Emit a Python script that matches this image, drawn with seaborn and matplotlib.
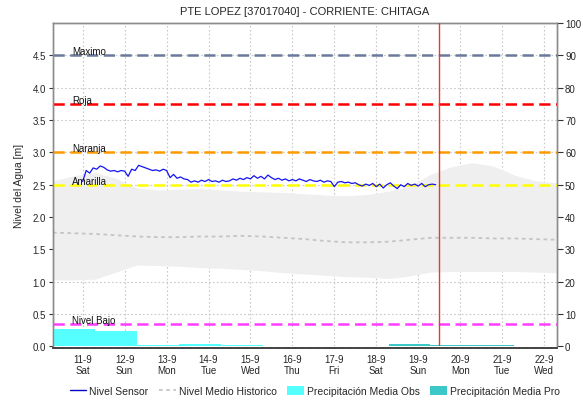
import matplotlib
matplotlib.use("Agg")
import matplotlib.pyplot as plt
from matplotlib.lines import Line2D
from matplotlib.patches import Patch
import numpy as np
import pandas as pd
import seaborn as sns

sns.set_theme(style="white")
plt.rcParams["font.family"] = ["Liberation Sans", "DejaVu Sans"]

# ---------------- data ----------------
title = "PTE LOPEZ [37017040] - CORRIENTE: CHITAGA"

# sensor level [m], every 2 hours from 11-9 00:00
sensor_start = "2021-09-11 00:00"
sensor_level = [
    2.55, 2.72, 2.68, 2.76, 2.74, 2.79, 2.77, 2.73, 2.71, 2.72, 2.70, 2.72,
    2.71, 2.63, 2.74, 2.72, 2.80, 2.78, 2.76, 2.74, 2.72, 2.73, 2.71, 2.74,
    2.72, 2.61, 2.66, 2.60, 2.62, 2.59, 2.58, 2.54, 2.56, 2.54, 2.57, 2.55,
    2.58, 2.55, 2.56, 2.54, 2.57, 2.55, 2.56, 2.59, 2.57, 2.60, 2.58, 2.61,
    2.59, 2.64, 2.60, 2.63, 2.59, 2.65, 2.61, 2.58, 2.60, 2.57, 2.59, 2.56,
    2.58, 2.56, 2.59, 2.57, 2.55, 2.58, 2.56, 2.55, 2.57, 2.54, 2.56, 2.55,
    2.47, 2.54, 2.55, 2.53, 2.54, 2.52, 2.53, 2.50, 2.48, 2.51, 2.49, 2.52,
    2.47, 2.51, 2.45, 2.50, 2.53, 2.48, 2.44, 2.50, 2.47, 2.52, 2.49, 2.51,
    2.48, 2.52, 2.47, 2.50, 2.51, 2.50,
]

# historical statistics [m], every 12 hours from 10-9 07:00
hist_start = "2021-09-10 07:00"
hist_upper = [2.56, 2.64, 2.69, 2.60, 2.45, 2.42, 2.43, 2.44, 2.42, 2.40, 2.39, 2.38,
              2.36, 2.34, 2.33, 2.35, 2.40, 2.48, 2.66, 2.78, 2.84, 2.79, 2.65, 2.56, 2.53]
hist_lower = [1.03, 1.03, 1.04, 1.15, 1.26, 1.25, 1.24, 1.22, 1.21, 1.19, 1.17, 1.14,
              1.12, 1.10, 1.08, 1.07, 1.05, 1.09, 1.15, 1.16, 1.16, 1.16, 1.16, 1.15, 1.14]
hist_median = [1.76, 1.75, 1.74, 1.72, 1.70, 1.69, 1.69, 1.70, 1.70, 1.71, 1.70, 1.68,
               1.66, 1.63, 1.61, 1.61, 1.62, 1.65, 1.68, 1.68, 1.68, 1.67, 1.67, 1.66, 1.65]

# daily precipitation [mm], days run 07:00 to 07:00
precip_obs_start = "2021-09-10 07:00"
precip_obs = [5.3, 4.7, 0.4, 0.8, 0.4, 0.3, 0.3, 0.3]
precip_pro_start = "2021-09-18 07:00"
precip_pro = [0.7, 0.4, 0.4]

# alert thresholds [m]
threshold_names = ["Maximo", "Roja", "Naranja", "Amarilla", "Nivel Bajo"]
threshold_values = [4.5, 3.75, 3.0, 2.5, 0.35]
threshold_colors = ["#6B7A9C", "#FF0000", "#FF9A00", "#FFFF00", "#FF3CFF"]

now_time = "2021-09-19 12:10"
x_start, x_end = "2021-09-10 07:00", "2021-09-22 07:15"
tick_days = pd.date_range("2021-09-11", "2021-09-22", freq="D")
tick_labels = ["11-9\nSat", "12-9\nSun", "13-9\nMon", "14-9\nTue", "15-9\nWed", "16-9\nThu",
               "17-9\nFri", "18-9\nSat", "19-9\nSun", "20-9\nMon", "21-9\nTue", "22-9\nWed"]

# ---------------- frames ----------------
sensor = pd.DataFrame({
    "time": pd.date_range(sensor_start, periods=len(sensor_level), freq="2h"),
    "level": sensor_level,
})
hist = pd.DataFrame({
    "time": pd.date_range(hist_start, periods=len(hist_median), freq="12h"),
    "upper": hist_upper, "lower": hist_lower, "median": hist_median,
})
obs = pd.DataFrame({"time": pd.date_range(precip_obs_start, periods=len(precip_obs), freq="D"),
                    "mm": precip_obs})
pro = pd.DataFrame({"time": pd.date_range(precip_pro_start, periods=len(precip_pro), freq="D"),
                    "mm": precip_pro})

# ---------------- figure ----------------
fig = plt.figure(figsize=(5.83, 4.02), dpi=100)
ax = fig.add_axes([0.0909, 0.1356, 0.864, 0.8047])
ax2 = ax.twinx()

grey_band = "#EFEFEF"
ax.fill_between(hist["time"], hist["lower"], hist["upper"], color=grey_band, lw=0, zorder=1)
sns.lineplot(data=hist, x="time", y="median", ax=ax, color="#C4C4C4", lw=1.3,
             linestyle=(0, (2, 2)), zorder=2)

for name, val, col in zip(threshold_names, threshold_values, threshold_colors):
    ax.axhline(val, color=col, lw=1.8, linestyle=(0, (4.5, 2.2)), zorder=3)
    ax.text(pd.Timestamp("2021-09-10 18:00"), val + 0.065, name, fontsize=7,
            ha="left", va="center", color="#111111", zorder=6)

sns.lineplot(data=sensor, x="time", y="level", ax=ax, color="#1414F0", lw=0.9, zorder=4)

# precipitation bars on the secondary axis
ax2.bar(obs["time"], obs["mm"], width=1.0, align="edge", color="#55FFFF", lw=0, zorder=2)
ax2.bar(pro["time"], pro["mm"], width=1.0, align="edge", color="#3CC8C8", lw=0, zorder=2)
ax2.axvline(pd.Timestamp(now_time), color="#E83838", lw=1.0, zorder=5)

# ---------------- axes styling ----------------
ax.set_xlim(pd.Timestamp(x_start), pd.Timestamp(x_end))
ax.set_ylim(0, 5)
ax2.set_ylim(0, 100)
ax.set_yticks(np.arange(0, 4.51, 0.5))
ax.set_yticklabels([f"{v:.1f}" for v in np.arange(0, 4.51, 0.5)])
ax2.set_yticks(np.arange(0, 101, 10))
ax.set_xticks(tick_days)
ax.set_xticklabels(tick_labels)
ax.set_xlabel("")
ax.set_ylabel("Nivel del Agua [m]", fontsize=7.5, labelpad=6)

ax.grid(True, color="#C8C8C8", linestyle=(0, (1.5, 2)), lw=0.8)
ax.set_axisbelow(True)
ax2.grid(False)

ax.tick_params(axis="both", labelsize=7, length=3, width=0.8, color="#333333", pad=2)
ax.tick_params(axis="x", length=0, pad=4)
ax2.tick_params(axis="y", labelsize=7, length=4, width=0.8, color="#333333", pad=2,
                direction="out", right=True)
ax.tick_params(axis="y", left=True, direction="out")

for a in (ax, ax2):
    for s in ("left", "right", "top"):
        a.spines[s].set_color("#8C8C8C")
        a.spines[s].set_linewidth(1.0)
    a.spines["bottom"].set_color("#444444")
    a.spines["bottom"].set_linewidth(1.2)
    a.spines["bottom"].set_linestyle((0, (0.8, 0.8)))
    a.spines["bottom"].set_position(("outward", 1.2))

fig.suptitle(title, fontsize=8, x=0.523, y=0.982)

handles = [
    Line2D([], [], color="#0000C8", lw=1.0),
    Line2D([], [], color="#C4C4C4", lw=1.3, linestyle=(0, (2, 2))),
    Patch(facecolor="#55FFFF", edgecolor="none"),
    Patch(facecolor="#3CC8C8", edgecolor="none"),
]
labels = ["Nivel Sensor", "Nivel Medio Historico", "Precipitación Media Obs", "Precipitación Media Pro"]
fig.legend(handles, labels, loc="center", bbox_to_anchor=(0.54, 0.025), ncol=4,
           frameon=False, fontsize=7.5, handlelength=1.6, handleheight=1.0,
           handletextpad=0.3, columnspacing=1.0)

fig.savefig("out.png", dpi=100)
